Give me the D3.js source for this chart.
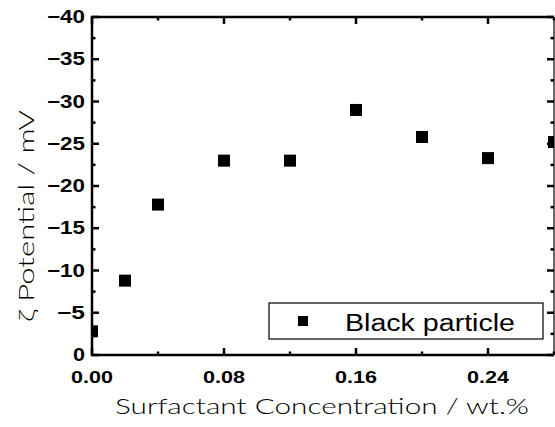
<!DOCTYPE html>
<html><head><meta charset="utf-8">
<script src="https://cdn.jsdelivr.net/npm/d3@7"></script>
<style>body{margin:0;background:#fff}svg{display:block}</style>
</head><body>
<svg id="c" width="555" height="427"></svg>
<script>
const concentrations = [0.00, 0.02, 0.04, 0.08, 0.12, 0.16, 0.20, 0.24, 0.28];
const zetaPotential = [-2.8, -8.8, -17.8, -23.0, -23.0, -29.0, -25.8, -23.3, -25.2];
const xTicks = [0.00, 0.08, 0.16, 0.24];
const xMinor = [0.04, 0.12, 0.20, 0.28];
const yTicks = [0, -5, -10, -15, -20, -25, -30, -35, -40];
const yMinor = [-2.5, -7.5, -12.5, -17.5, -22.5, -27.5, -32.5, -37.5];
const seriesName = "Black particle";
const xTitle = "Surfactant Concentration / wt.%";
const yTitle = "ζ Potential / mV";

const svg = d3.select("#c");
const L = 92, R = 554, T = 17, B = 355;
const x = d3.scaleLinear().domain([0, 0.28]).range([L, R]);
const y = d3.scaleLinear().domain([0, -40]).range([B, T]);
const fontT = "'Liberation Sans', Arial, sans-serif";
const fontThin = "Lato, 'Liberation Sans', sans-serif";

svg.append("defs").append("clipPath").attr("id", "clip")
  .append("rect").attr("x", L).attr("y", T).attr("width", R - L).attr("height", B - T);

// points
const s = 12;
svg.append("g").attr("clip-path", "url(#clip)").selectAll("rect").data(concentrations).join("rect")
  .attr("x", (d) => x(d) - s/2)
  .attr("y", (d, i) => y(zetaPotential[i]) - s/2)
  .attr("width", s).attr("height", s).attr("fill", "#000");

// ticks
const g = svg.append("g").attr("stroke", "#000").attr("stroke-width", 2.5);
function ticks(vals, len) {
  vals.forEach(v => {
    g.append("line").attr("x1", x(v)).attr("x2", x(v)).attr("y1", B).attr("y2", B - len);
    g.append("line").attr("x1", x(v)).attr("x2", x(v)).attr("y1", T).attr("y2", T + len);
  });
}
ticks(xTicks, 7);
ticks(xMinor, 3.5);
function yt(vals, len) {
  vals.forEach(v => {
    g.append("line").attr("x1", L).attr("x2", L + len).attr("y1", y(v)).attr("y2", y(v));
    g.append("line").attr("x1", R).attr("x2", R - len).attr("y1", y(v)).attr("y2", y(v));
  });
}
yt(yTicks, 7);
yt(yMinor, 3.5);

// frame
g.append("line").attr("x1", L).attr("x2", L).attr("y1", T - 1).attr("y2", B + 1);
g.append("line").attr("x1", L - 1).attr("x2", R).attr("y1", B).attr("y2", B);
g.append("line").attr("x1", L - 1).attr("x2", R).attr("y1", T).attr("y2", T);
g.append("line").attr("x1", R).attr("x2", R).attr("y1", T).attr("y2", B).attr("stroke-width", 1.2);

// tick labels
svg.append("g").selectAll("text").data(xTicks).join("text")
  .attr("x", d => x(d)).attr("y", 383).attr("text-anchor", "middle")
  .attr("font-family", fontT).attr("font-size", 17).attr("font-weight", "bold")
  .attr("textLength", 42).attr("lengthAdjust", "spacingAndGlyphs")
  .text(d => d.toFixed(2));
svg.append("g").selectAll("text").data(yTicks).join("text")
  .attr("x", 85).attr("y", d => y(d) + 6).attr("text-anchor", "end")
  .attr("font-family", fontT).attr("font-size", 18).attr("font-weight", "bold")
  .attr("textLength", d => d === 0 ? 12 : (Math.abs(d) >= 10 ? 38 : 28))
  .attr("lengthAdjust", "spacingAndGlyphs")
  .text(d => d === 0 ? "0" : "\u2212" + Math.abs(d));

// axis titles
svg.append("text").attr("x", 322).attr("y", 414).attr("text-anchor", "middle")
  .attr("font-family", fontThin).attr("font-size", 22).attr("font-weight", 300)
  .attr("textLength", 414).attr("lengthAdjust", "spacingAndGlyphs")
  .attr("fill", "#000").text(xTitle);
svg.append("text").attr("transform", "translate(34,216) rotate(-90)")
  .attr("text-anchor", "middle").attr("font-family", fontThin).attr("font-size", 22)
  .attr("font-weight", 300)
  .attr("textLength", 212).attr("lengthAdjust", "spacingAndGlyphs")
  .attr("fill", "#000").text(yTitle);

// legend
svg.append("rect").attr("x", 269).attr("y", 303).attr("width", 274).attr("height", 36)
  .attr("fill", "#fff").attr("stroke", "#000").attr("stroke-width", 1.2);
svg.append("rect").attr("x", 298).attr("y", 316).attr("width", 10).attr("height", 10).attr("fill", "#000");
svg.append("text").attr("x", 345).attr("y", 331).attr("font-family", fontT).attr("font-size", 23)
  .attr("textLength", 170).attr("lengthAdjust", "spacingAndGlyphs").text(seriesName);
</script>
</body></html>
